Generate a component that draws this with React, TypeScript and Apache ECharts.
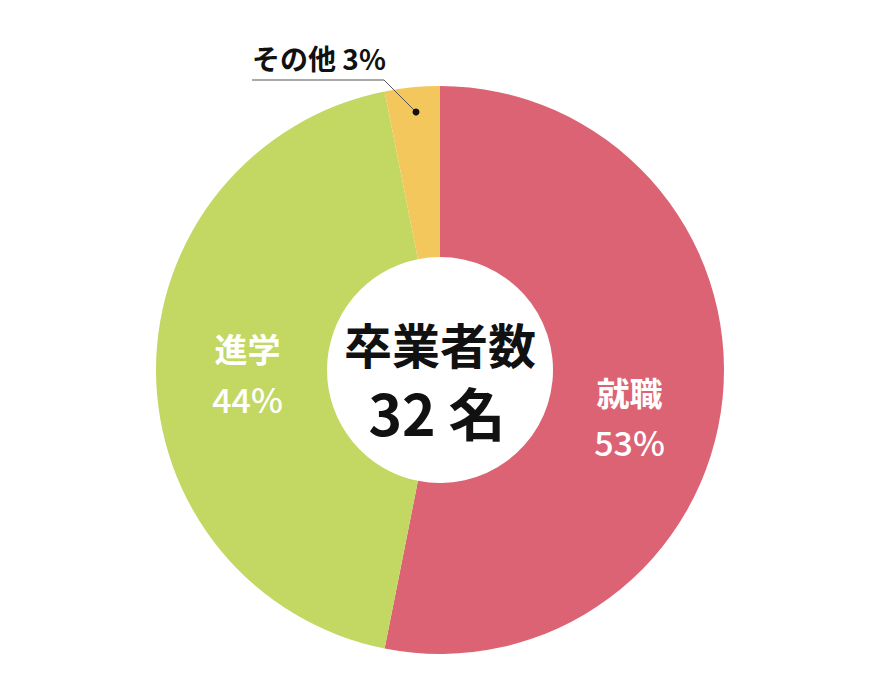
import React, { useEffect, useRef } from "react";
import * as echarts from "echarts";

const categories = ["就職", "進学", "その他"];
const counts = [17, 14, 1];
const colors = ["#dc6374", "#c2d862", "#f4c75c"];
const centerTitle = "卒業者数";
const totalLabel = "32 名";

const FONT = '"Noto Sans CJK JP", "Noto Sans", sans-serif';

export default function App() {
  const ref = useRef<HTMLDivElement>(null);
  useEffect(() => {
    if (!ref.current) return;
    const chart = echarts.init(ref.current, null, { renderer: "svg" });
    const data = categories.map((name, i) => ({
      name,
      value: counts[i],
      itemStyle: { color: colors[i] },
      label:
        i === 2
          ? {
              show: true,
              position: "outside",
              color: "#111",
              fontSize: 28,
              fontWeight: "bold",
              fontFamily: FONT,
              formatter: (p: any) => `${p.name} ${Math.round(p.percent)}%`,
            }
          : { show: true },
      labelLine: { show: false },
    }));
    chart.setOption({
      animation: false,
      graphic: [
        {
          type: "polyline",
          shape: {
            points: [
              [416, 112],
              [384, 80],
              [252, 80],
            ],
          },
          style: { stroke: "#555", lineWidth: 1, fill: null },
          z: 100,
        },
        {
          type: "circle",
          shape: { cx: 416, cy: 112, r: 3.5 },
          style: { fill: "#111" },
          z: 101,
        },
        {
          type: "text",
          x: 440,
          y: 343,
          style: {
            text: centerTitle,
            fontSize: 48,
            fontWeight: "bold",
            fontFamily: FONT,
            fill: "#111",
            align: "center",
            verticalAlign: "middle",
          },
          z: 100,
        },
        {
          type: "text",
          x: 437,
          y: 411,
          style: {
            text: totalLabel,
            fontSize: 57,
            fontWeight: "bold",
            fontFamily: FONT,
            fill: "#111",
            align: "center",
            verticalAlign: "middle",
          },
          z: 100,
        },
      ],
      series: [
        {
          type: "pie",
          center: [440, 370],
          radius: [113, 284],
          startAngle: 90,
          clockwise: true,
          avoidLabelOverlap: false,
          emphasis: { disabled: true },
          label: {
            show: true,
            position: "inside",
            color: "#fff",
            fontFamily: FONT,
            formatter: (p: any) => `{n|${p.name}}\n{p|${Math.round(p.percent)}%}`,
            rich: {
              n: { fontSize: 33, fontWeight: "bold", color: "#fff", fontFamily: FONT, lineHeight: 50 },
              p: { fontSize: 34, fontWeight: 500, color: "#fff", fontFamily: FONT, lineHeight: 50 },
            },
          },
          labelLayout: (params: any) => {
            if (params.dataIndex === 0) return { dx: -11, dy: 27 };
            if (params.dataIndex === 1) return { dx: 9, dy: 3 };
            return {
              x: 252,
              y: 58,
              align: "left",
              verticalAlign: "middle",
            };
          },
          data,
        },
      ],
    });
    return () => chart.dispose();
  }, []);
  return (
    <div
      ref={ref}
      style={{ position: "absolute", left: 0, top: 0, width: 881, height: 700 }}
    />
  );
}
